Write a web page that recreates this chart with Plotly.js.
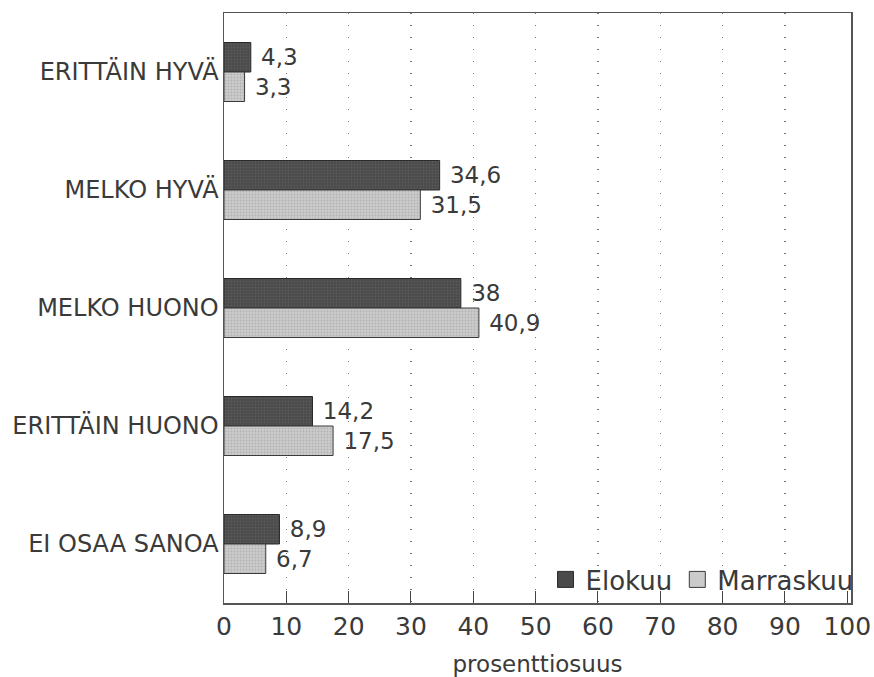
<!DOCTYPE html>
<html>
<head>
<meta charset="utf-8">
<script src="https://cdn.plot.ly/plotly-3.0.1.min.js"></script>
<style>html,body{margin:0;padding:0;background:#fff;}#chart{width:874px;height:677px;}</style>
</head>
<body>
<div id="chart"></div>
<script>
const categories = ["ERITTÄIN HYVÄ", "MELKO HYVÄ", "MELKO HUONO", "ERITTÄIN HUONO", "EI OSAA SANOA"];
const elokuu = [4.3, 34.6, 38, 14.2, 8.9];
const marraskuu = [3.3, 31.5, 40.9, 17.5, 6.7];
const seriesNames = ["Elokuu", "Marraskuu"];
const xTicks = [0, 10, 20, 30, 40, 50, 60, 70, 80, 90, 100];
const gridVals = [10, 20, 30, 40, 50, 60, 70, 80, 90];

const fmt = v => '\u00a0' + String(v).replace('.', ',');
const font = "DejaVu Sans, Liberation Sans, Arial, sans-serif";
const darkColor = '#4a4a4a';
const lightColor = '#cbcbcb';

const traces = [
  {
    type: 'bar', orientation: 'h', name: seriesNames[0], showlegend: false,
    y: categories, x: elokuu,
    text: elokuu.map(fmt), textposition: 'outside', cliponaxis: false,
    textfont: {family: font, size: 23, color: '#3a3a3a'},
    marker: {color: darkColor, line: {color: '#2a2a2a', width: 1},
             pattern: {shape: '.', size: 3, solidity: 0.3, fgcolor: '#6a6a6a', fillmode: 'overlay'}}
  },
  {
    type: 'bar', orientation: 'h', name: seriesNames[1], showlegend: false,
    y: categories, x: marraskuu,
    text: marraskuu.map(fmt), textposition: 'outside', cliponaxis: false,
    textfont: {family: font, size: 23, color: '#3a3a3a'},
    marker: {color: lightColor, line: {color: '#3a3a3a', width: 1},
             pattern: {shape: '.', size: 3, solidity: 0.3, fgcolor: '#9a9a9a', fillmode: 'overlay'}}
  },
  {
    type: 'scatter', mode: 'markers', name: seriesNames[0], x: [null], y: [null],
    marker: {symbol: 'square', size: 27, color: darkColor, line: {color: '#2a2a2a', width: 1}}
  },
  {
    type: 'scatter', mode: 'markers', name: seriesNames[1], x: [null], y: [null],
    marker: {symbol: 'square', size: 27, color: lightColor, line: {color: '#3a3a3a', width: 1}}
  }
];

const layout = {
  width: 874, height: 677,
  margin: {l: 224, r: 23, t: 13, b: 74},
  paper_bgcolor: '#fff', plot_bgcolor: '#fff',
  barmode: 'group', bargap: 0.5, bargroupgap: 0,
  font: {family: font, color: '#3a3a3a'},
  showlegend: true,
  legend: {
    orientation: 'h', x: 1.012, xanchor: 'right', y: 0.0, yanchor: 'bottom',
    font: {family: font, size: 26, color: '#3a3a3a'},
    bgcolor: 'rgba(255,255,255,0)', itemsizing: 'trace', traceorder: 'normal',
    tracegroupgap: 0, itemwidth: 30
  },
  xaxis: {
    range: [0, 100.6], tickvals: xTicks, ticktext: xTicks.map(String),
    ticks: 'inside', ticklen: 12, tickcolor: '#444', tickwidth: 1,
    showgrid: false,
    minor: {tickvals: gridVals, showgrid: true, gridcolor: '#777', griddash: '1px,11px', gridwidth: 1.5, ticks: ''},
    showline: true, linecolor: '#555', linewidth: 1.5, mirror: true,
    zeroline: false,
    tickfont: {family: font, size: 25, color: '#3a3a3a'},
    title: {text: 'prosenttiosuus', font: {family: font, size: 23, color: '#3a3a3a'}, standoff: 19}
  },
  yaxis: {
    autorange: 'reversed', type: 'category',
    showline: true, linecolor: '#555', linewidth: 1.5, mirror: true,
    ticks: '', showgrid: false,
    tickfont: {family: font, size: 24, color: '#3a3a3a'},
    ticklabelstandoff: -1
  }
};

Plotly.newPlot('chart', traces, layout, {displayModeBar: false, staticPlot: true});
</script>
</body>
</html>
